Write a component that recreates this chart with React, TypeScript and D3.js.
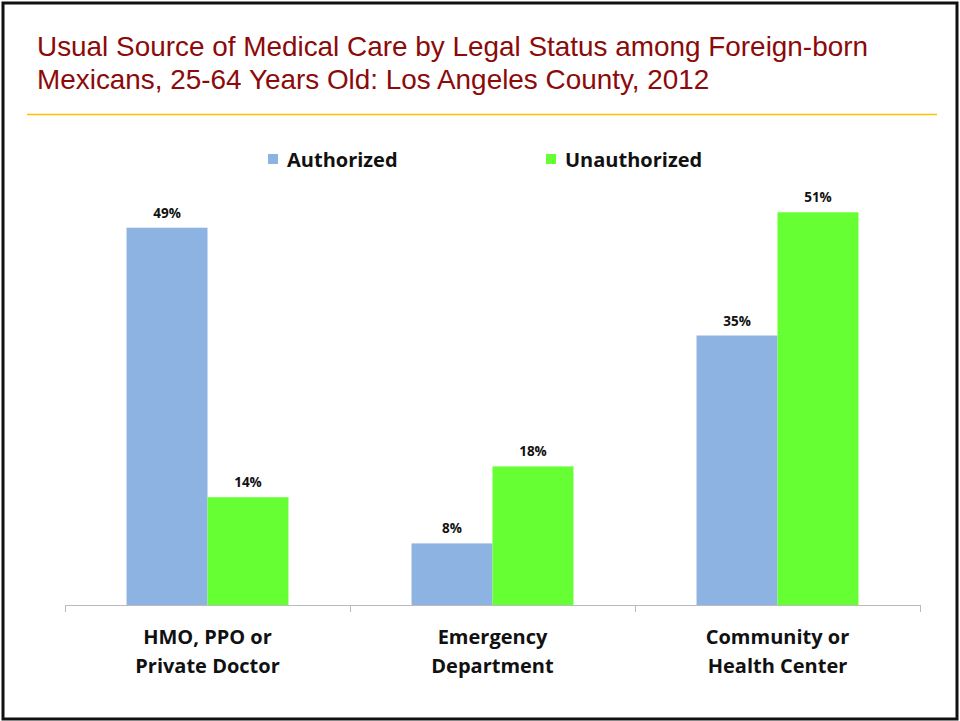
import React, { useEffect, useRef } from "react";
import * as d3 from "d3";

const categories = [["HMO, PPO or", "Private Doctor"], ["Emergency", "Department"], ["Community or", "Health Center"]];
const seriesNames = ["Authorized", "Unauthorized"];
const authorized = [49, 8, 35];
const unauthorized = [14, 18, 51];
const colors = ["#8DB3E2", "#66FF33"];
const titleLines = ["Usual Source of Medical Care by Legal Status among Foreign-born", "Mexicans, 25-64 Years Old: Los Angeles County, 2012"];

export default function App() {
  const ref = useRef<SVGSVGElement>(null);
  useEffect(() => {
    const svg = d3.select(ref.current);
    svg.selectAll("*").remove();
    const W = 960, H = 721;
    svg.append("rect").attr("x", 3).attr("y", 3).attr("width", W - 6).attr("height", H - 5)
      .attr("fill", "white").attr("stroke", "#111").attr("stroke-width", 3);

    const t = svg.append("text").attr("fill", "#8B0A0A").attr("font-family", "Liberation Sans, Arial, sans-serif").attr("font-size", 27.9);
    titleLines.forEach((l, i) => t.append("tspan").attr("x", 37).attr("y", 56 + i * 33).text(l));

    svg.append("line").attr("x1", 27).attr("x2", 937).attr("y1", 114.5).attr("y2", 114.5).attr("stroke", "#FFC000").attr("stroke-width", 1.5);

    const font = "Open Sans, sans-serif";
    const legendX = [268, 546];
    seriesNames.forEach((s, i) => {
      svg.append("rect").attr("x", legendX[i]).attr("y", 154).attr("width", 10).attr("height", 10).attr("fill", colors[i]);
      svg.append("text").attr("x", legendX[i] + 19).attr("y", 167).attr("font-family", font).attr("font-weight", "bold")
        .attr("font-size", 20).attr("fill", "#111").text(s);
    });

    const x0 = d3.scaleBand<number>().domain([0, 1, 2]).range([65, 920]).paddingInner(0).paddingOuter(0);
    const x1 = d3.scaleBand<number>().domain([0, 1]).range([0, x0.bandwidth()]).paddingInner(0).paddingOuter(0.76);
    const y = d3.scaleLinear().domain([0, 60]).range([605, 143]);

    const data = [authorized, unauthorized];
    data.forEach((vals, si) => {
      vals.forEach((v, ci) => {
        const bx = (x0(ci) as number) + (x1(si) as number);
        svg.append("rect").attr("x", bx).attr("y", y(v)).attr("width", x1.bandwidth()).attr("height", y(0) - y(v)).attr("fill", colors[si]);
        svg.append("text").attr("x", bx + x1.bandwidth() / 2).attr("y", y(v) - 10).attr("text-anchor", "middle")
          .attr("font-family", font).attr("font-weight", "bold").attr("font-size", 13.5).attr("fill", "#111").text(v + "%");
      });
    });

    const axisColor = "#BBBBBB";
    svg.append("line").attr("x1", 65).attr("x2", 920).attr("y1", 605.5).attr("y2", 605.5).attr("stroke", axisColor);
    [0, 1, 2, 3].forEach(i => {
      const tx = i < 3 ? (x0(i) as number) : 920;
      svg.append("line").attr("x1", tx + 0.5).attr("x2", tx + 0.5).attr("y1", 605).attr("y2", 612).attr("stroke", axisColor);
    });

    categories.forEach((lines, ci) => {
      const cx = (x0(ci) as number) + x0.bandwidth() / 2;
      lines.forEach((l, li) => {
        svg.append("text").attr("x", cx).attr("y", 644 + li * 29).attr("text-anchor", "middle").attr("font-family", font)
          .attr("font-weight", "bold").attr("font-size", 20).attr("fill", "#111").text(l);
      });
    });
  }, []);
  return <svg ref={ref} width={960} height={721} style={{ display: "block", position: "absolute", left: 0, top: 0 }} />;
}
